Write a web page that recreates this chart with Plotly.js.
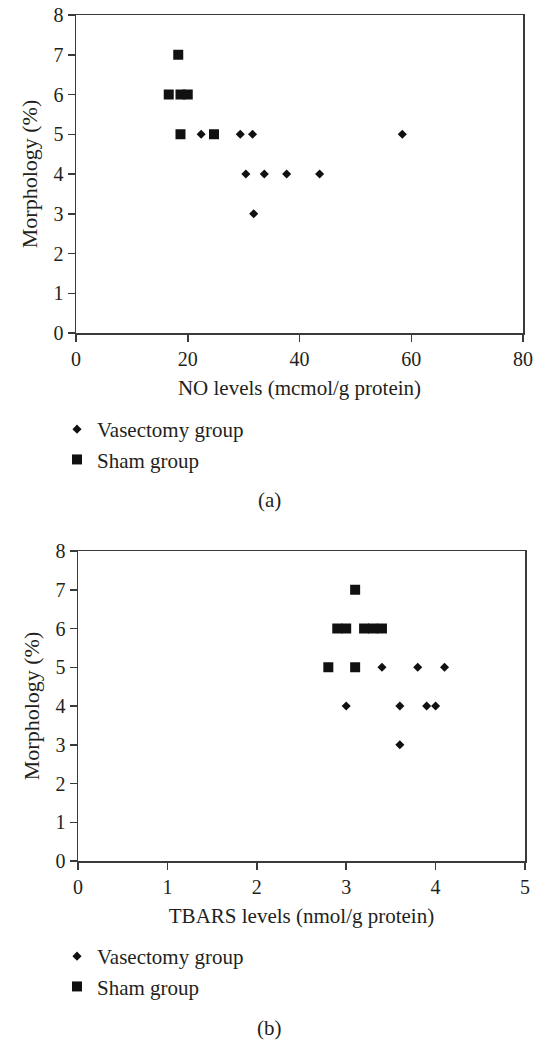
<!DOCTYPE html>
<html>
<head>
<meta charset="utf-8">
<script src="https://cdn.plot.ly/plotly-3.0.1.min.js"></script>
<style>html,body{margin:0;padding:0;background:#fff;}#chart{width:539px;height:1041px;}</style>
</head>
<body>
<div id="chart"></div>
<script>
// Panel (a): NO levels vs morphology
var noVasX = [22.4, 29.4, 31.6, 58.4, 30.4, 33.7, 37.7, 43.6, 31.8];
var noVasY = [5, 5, 5, 5, 4, 4, 4, 4, 3];
var noShamX = [18.3, 16.6, 18.7, 20.0, 18.7, 24.7];
var noShamY = [7, 6, 6, 6, 5, 5];
// Panel (b): TBARS levels vs morphology
var tbVasX = [3.4, 3.8, 4.1, 3.0, 3.6, 3.9, 4.0, 3.6];
var tbVasY = [5, 5, 5, 4, 4, 4, 4, 3];
var tbShamX = [3.1, 2.9, 3.0, 3.2, 3.3, 3.4, 2.8, 3.1];
var tbShamY = [7, 6, 6, 6, 6, 6, 5, 5];
var seriesNames = ["Vasectomy group", "Sham group"];
var xTitles = ["NO levels (mcmol/g protein)", "TBARS levels (nmol/g protein)"];
var yTitle = "Morphology (%)";
var panelLabels = ["(a)", "(b)"];

var FONT = "Liberation Serif, Times New Roman, serif";
var TXT = "#231f20";
var LINE = "#3a3a3a";

var diamond = {symbol: "diamond", size: 7, color: "#111"};
var square = {symbol: "square", size: 10, color: "#111"};

var data = [
  {x: noVasX, y: noVasY, type: "scatter", mode: "markers", name: seriesNames[0], marker: diamond, xaxis: "x", yaxis: "y", legend: "legend", legendgroup: "a1"},
  {x: noShamX, y: noShamY, type: "scatter", mode: "markers", name: seriesNames[1], marker: square, xaxis: "x", yaxis: "y", legend: "legend", legendgroup: "a2"},
  {x: tbVasX, y: tbVasY, type: "scatter", mode: "markers", name: seriesNames[0], marker: diamond, xaxis: "x2", yaxis: "y2", legend: "legend2", legendgroup: "b1"},
  {x: tbShamX, y: tbShamY, type: "scatter", mode: "markers", name: seriesNames[1], marker: square, xaxis: "x2", yaxis: "y2", legend: "legend2", legendgroup: "b2"}
];

function axisCommon(extra) {
  var a = {
    showline: true, mirror: true, linecolor: LINE, linewidth: 1.5,
    showgrid: false, zeroline: false,
    ticks: "outside", ticklen: 7, tickwidth: 1.5, tickcolor: LINE,
    tickfont: {family: FONT, size: 20, color: TXT},
    fixedrange: true
  };
  for (var k in extra) a[k] = extra[k];
  return a;
}

var layout = {
  width: 539, height: 1041,
  margin: {l: 0, r: 0, t: 0, b: 0},
  paper_bgcolor: "#fff", plot_bgcolor: "#fff",
  font: {family: FONT, color: TXT, size: 21},
  showlegend: true,
  xaxis: axisCommon({domain: [76/539, 523/539], range: [0, 80], dtick: 20, tick0: 0, anchor: "y",
    title: {text: xTitles[0], font: {family: FONT, size: 21, color: TXT}, standoff: 12}}),
  yaxis: axisCommon({domain: [1 - 333/1041, 1 - 15/1041], range: [0, 8], dtick: 1, tick0: 0, anchor: "x",
    title: {text: yTitle, font: {family: FONT, size: 22, color: TXT}, standoff: 10}}),
  xaxis2: axisCommon({domain: [78/539, 525/539], range: [0, 5], dtick: 1, tick0: 0, anchor: "y2",
    title: {text: xTitles[1], font: {family: FONT, size: 21, color: TXT}, standoff: 12}}),
  yaxis2: axisCommon({domain: [1 - 861/1041, 1 - 551/1041], range: [0, 8], dtick: 1, tick0: 0, anchor: "x2",
    title: {text: yTitle, font: {family: FONT, size: 22, color: TXT}, standoff: 10}}),
  legend: {x: 57/539, y: 1 - 409/1041, xanchor: "left", yanchor: "top", bgcolor: "rgba(0,0,0,0)",
    font: {family: FONT, size: 21, color: TXT}, tracegroupgap: 4, traceorder: "normal"},
  legend2: {x: 57/539, y: 1 - 936/1041, xanchor: "left", yanchor: "top", bgcolor: "rgba(0,0,0,0)",
    font: {family: FONT, size: 21, color: TXT}, tracegroupgap: 4, traceorder: "normal"},
  annotations: [
    {text: panelLabels[0], xref: "paper", yref: "paper", x: 269/539, y: 1 - 500/1041, xanchor: "center", yanchor: "middle", showarrow: false, font: {family: FONT, size: 21, color: TXT}},
    {text: panelLabels[1], xref: "paper", yref: "paper", x: 269/539, y: 1 - 1028/1041, xanchor: "center", yanchor: "middle", showarrow: false, font: {family: FONT, size: 21, color: TXT}}
  ]
};

Plotly.newPlot("chart", data, layout, {displayModeBar: false, staticPlot: true});
</script>
</body>
</html>
